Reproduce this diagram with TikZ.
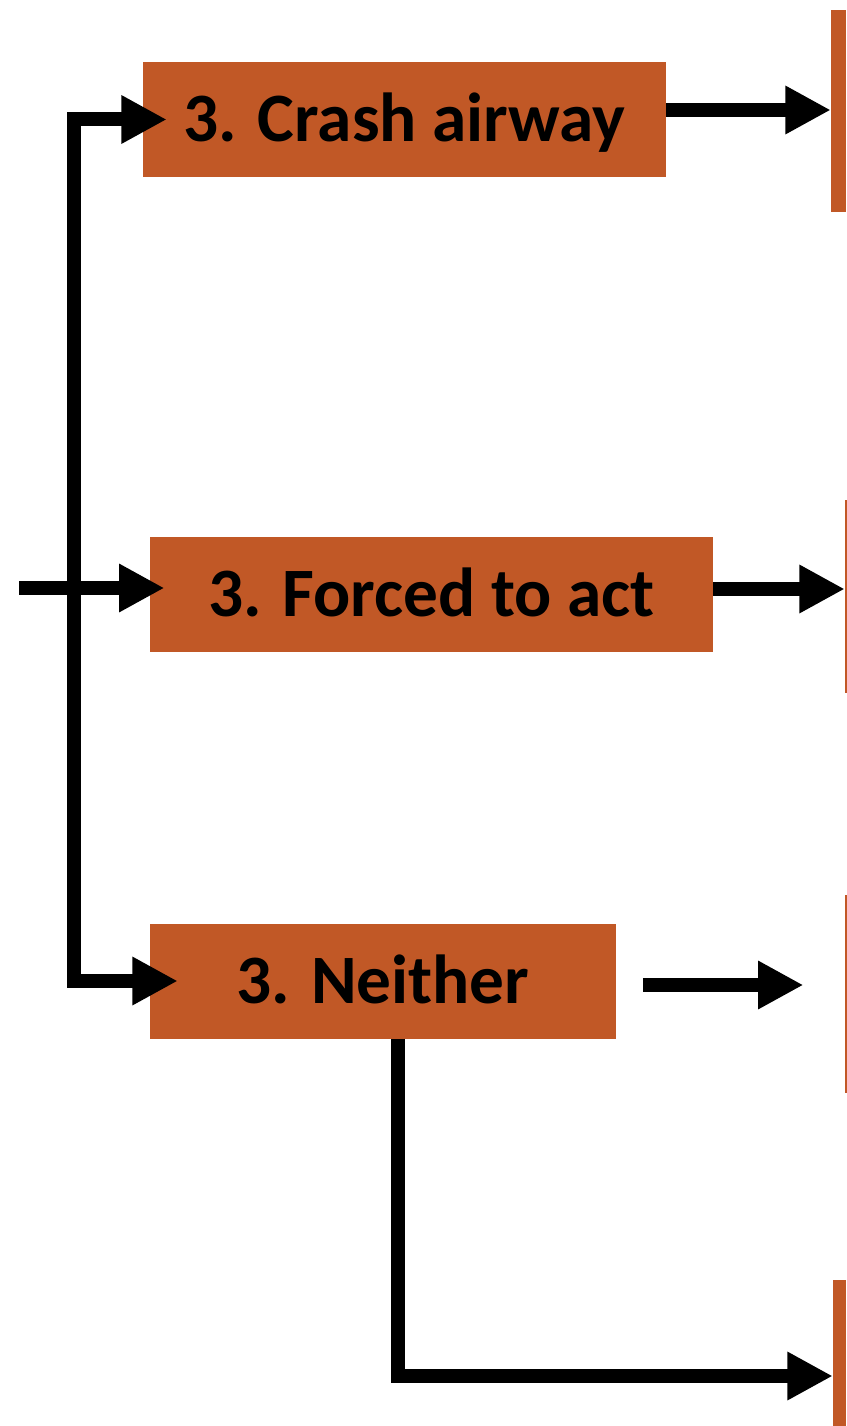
\documentclass[tikz,border=0pt]{standalone}
\usepackage{fontspec}
\setmainfont{Carlito}
\usetikzlibrary{arrows.meta}
\definecolor{boxorange}{HTML}{C15826}
\tikzset{
  stage/.style={fill=boxorange, draw=none, inner sep=0pt, minimum height=115*0.75pt,
    font=\fontsize{52}{62}\selectfont\bfseries, text height=33pt, text depth=0pt},
  stub/.style={fill=boxorange, draw=none, inner sep=0pt},
  arr/.style={line width=10.5pt, -{Triangle[length=34pt,width=34pt]}, line join=miter},
  arr2/.style={line width=10.5pt, {Triangle[length=34pt,width=34pt]}-{Triangle[length=34pt,width=34pt]}, line join=miter}
}
\begin{document}
\begin{tikzpicture}[x=0.75pt,y=-0.75pt]
\useasboundingbox (0,0) rectangle (846,1426);
% main boxes
\node[stage, minimum width=523*0.75pt] (b1) at (404.5,119.5) {3. Crash airway};
\node[stage, minimum width=563*0.75pt] (b2) at (431.5,594.5) {3. Forced to act};
\node[stage, minimum width=466*0.75pt] (b3) at (383,981) {3. Neither};
% partial boxes at right edge
\node[stub, minimum width=15*0.75pt, minimum height=202*0.75pt] (r1) at (838.5,111) {};
\node[stub, minimum width=2*0.75pt, minimum height=193*0.75pt] (r2) at (846,596.5) {};
\node[stub, minimum width=2*0.75pt, minimum height=198*0.75pt] (r3) at (846,994) {};
\node[stub, minimum width=13*0.75pt, minimum height=146*0.75pt] (r4) at (839.5,1353) {};
% helper coordinates
\coordinate (vx) at (74,588);
\coordinate (in) at (19,588);
\coordinate (y1) at (0,110);
\coordinate (y2) at (0,589);
\coordinate (y3) at (0,985);
\coordinate (b4) at (398,1376);
% left branching connector
\draw[arr2, shorten <=-18pt, shorten >=-21pt] (b1.west) -| (vx) |- (b3.west);
\draw[arr, shorten >=-11pt] (in) -- (in -| b2.west);
% right connectors
\draw[arr] (b1.east |- y1) -- (r1.west |- y1);
\draw[arr] (b2.east |- y2) -- (r2.west |- y2);
\draw[arr, shorten <=20pt, shorten >=31pt] (b3.east |- y3) -- (r3.west |- y3);
\draw[arr] (b3.south -| b4) -- (b4) -- (r4.west |- b4);
\end{tikzpicture}
\end{document}
